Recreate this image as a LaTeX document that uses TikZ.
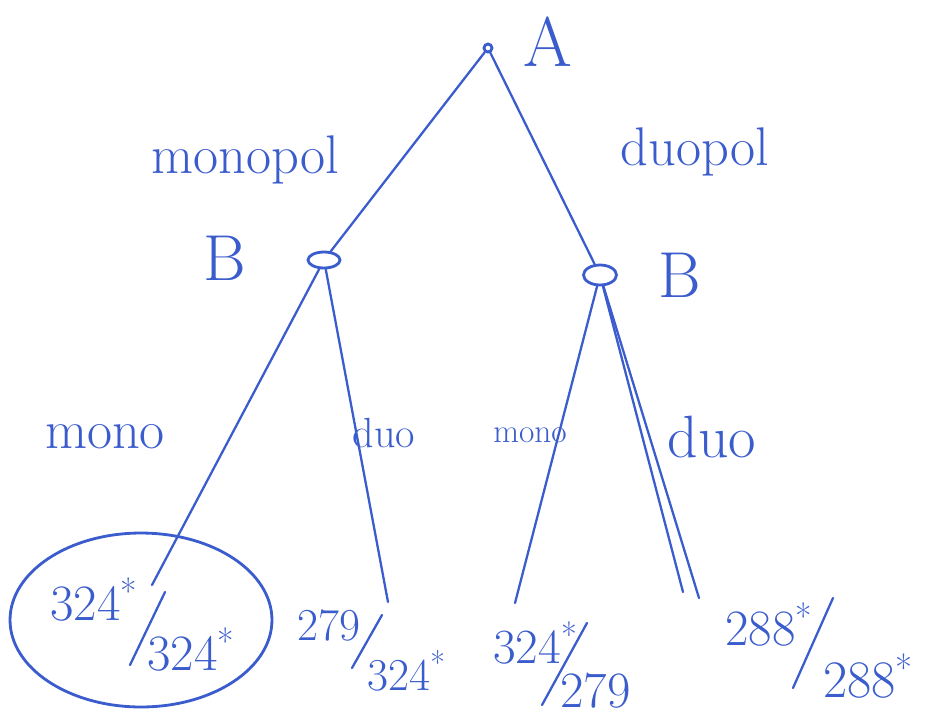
\documentclass[tikz,border=0pt]{standalone}
\usepackage{fontspec}
\usetikzlibrary{positioning, shapes.geometric}
\definecolor{inkblue}{RGB}{58,92,204}

\tikzset{
  ink/.style={draw=inkblue, line width=1.3pt, line cap=round},
  hw/.style={text=inkblue, inner sep=0pt, font=\fontsize{#1}{#1}\selectfont},
  hw/.default=30,
  decnode/.style={ellipse, draw=inkblue, line width=1.6pt, inner sep=0pt}
}

\begin{document}
\begin{tikzpicture}[x=0.02cm, y=-0.02cm]
\useasboundingbox (0,0) rectangle (944,718);

% decision nodes
\node[decnode, circle, minimum size=0.16cm] (root) at (488,48) {};
\node[decnode, minimum width=0.64cm, minimum height=0.32cm] (bl) at (324,260) {};
\node[decnode, minimum width=0.66cm, minimum height=0.4cm] (br) at (600,275) {};
\node[hw=40] (la) at (548,42) {A};
\node[hw=37] (lbl) at (225,258) {B};
\node[hw=37] (lbr) at (680,275) {B};

% leaf ends
\coordinate (ll) at (152,585);
\coordinate (lr) at (388,602);
\coordinate (rl) at (515,603);
\coordinate (rr) at (683,592);
\coordinate (rr2) at (699,598);

\draw[ink] (root) -- (bl);
\draw[ink] (root) -- (br);
\draw[ink] (bl) -- (ll);
\draw[ink] (bl) -- (lr);
\draw[ink] (br) -- (rl);
\draw[ink] (br) -- (rr);
\draw[ink] (br) -- (rr2);

% move labels
\node[hw=31] (mpol) at (245,160) {monopol};
\node[hw=31] (dpol) at (695,152) {duopol};
\node[hw=31] (m1) at (105,437) {mono};
\node[hw=24] (d1) at (384,433) {duo};
\node[hw=19] (m2) at (530,435) {mono};
\node[hw=34] (d2) at (712,437) {duo};

% payoffs
\node[hw=29, anchor=base west] (p1a) at (50,620) {324\textsuperscript{*}};
\node[hw=29, anchor=base west] (p1b) at (147,670) {324\textsuperscript{*}};
\coordinate (s1a) at (165,592); \coordinate (s1b) at (130,665);
\draw[ink] (s1a) -- (s1b);
\node[decnode, minimum width=5.24cm, minimum height=3.48cm] (best) at (141,620) {};

\node[hw=26, anchor=base west] (p2a) at (297,640) {279};
\node[hw=26, anchor=base west] (p2b) at (367,690) {324\textsuperscript{*}};
\coordinate (s2a) at (382,615); \coordinate (s2b) at (352,668);
\draw[ink] (s2a) -- (s2b);

\node[hw=28, anchor=base west] (p3a) at (493,663) {324\textsuperscript{*}};
\node[hw=29, anchor=base west] (p3b) at (560,707) {279};
\coordinate (s3a) at (587,623); \coordinate (s3b) at (542,705);
\draw[ink] (s3a) -- (s3b);

\node[hw=29, anchor=base west] (p4a) at (725,645) {288\textsuperscript{*}};
\node[hw=30, anchor=base west] (p4b) at (823,697) {288\textsuperscript{*}};
\coordinate (s4a) at (833,598); \coordinate (s4b) at (793,688);
\draw[ink] (s4a) -- (s4b);
\end{tikzpicture}
\end{document}
